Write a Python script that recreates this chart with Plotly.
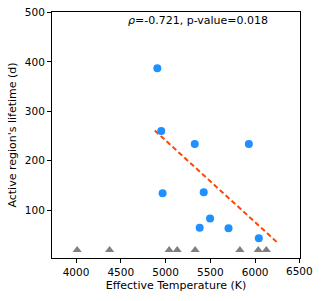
import plotly.graph_objects as go

# Blue points: detected lifetimes
teff_blue = [4908, 4952, 5326, 5930, 4967, 5426, 5497, 5381, 5703, 6041]
life_blue = [387, 260, 234, 234, 134, 136, 83, 64, 63, 43]

# Grey triangles: upper limits / undetermined
teff_grey = [4013, 4375, 5040, 5130, 5330, 5830, 6035, 6125]
life_grey = [19, 19, 19, 19, 19, 19, 19, 19]

# Fit line endpoints
fit_x = [4880, 6250]
fit_y = [261, 34]

x_ticks = [4000, 4500, 5000, 5500, 6000, 6500]
x_ticktext = ["4000", "4500", "5000", "5500", "6000", ""]
last_x_tick_label = "6500"
y_ticks = [100, 200, 300, 400, 500]

annot = "<i>ρ</i>=-0.721, p-value=0.018"

fig = go.Figure()
fig.add_trace(go.Scatter(x=fit_x, y=fit_y, mode="lines",
                         line=dict(color="#FF4500", width=2, dash="5px,3px"),
                         showlegend=False, hoverinfo="skip"))
fig.add_trace(go.Scatter(x=teff_grey, y=life_grey, mode="markers",
                         marker=dict(symbol="triangle-up", size=8, color="#808080"),
                         showlegend=False))
fig.add_trace(go.Scatter(x=teff_blue, y=life_blue, mode="markers",
                         marker=dict(symbol="circle", size=8, color="#1E90FF"),
                         showlegend=False))

axis_common = dict(showline=True, linecolor="black", linewidth=1, mirror=True,
                   ticks="outside", ticklen=4, tickcolor="black", showgrid=False,
                   zeroline=False, automargin=False, ticklabeloverflow="allow",
                   tickfont=dict(size=10.5, color="black"))

fig.update_layout(
    width=323, height=301,
    margin=dict(l=52, r=23, t=12, b=43),
    paper_bgcolor="white", plot_bgcolor="white",
    font=dict(family="DejaVu Sans", color="black"),
    xaxis=dict(range=[3732, 6501], tickvals=x_ticks, ticktext=x_ticktext,
               title=dict(text="Effective Temperature (K)", font=dict(size=11), standoff=4),
               **axis_common),
    yaxis=dict(range=[3, 501], tickvals=y_ticks,
               title=dict(text="Active region's lifetime (d)", font=dict(size=11), standoff=6),
               **axis_common),
    annotations=[
        dict(text=annot, xref="paper", yref="paper", x=0.298, y=0.965,
             xanchor="left", yanchor="middle", showarrow=False,
             font=dict(size=11, color="black")),
        dict(text=last_x_tick_label, xref="x", yref="paper", x=x_ticks[-1], y=0,
             xanchor="center", yanchor="middle", yshift=-12.5, showarrow=False,
             font=dict(size=10.5, color="black")),
    ],
)

post = (
    "document.body.style.margin='0';"
    "document.body.style.overflow='hidden';"
)

fig.write_html("out.html", config={"displayModeBar": False}, post_script=post)
